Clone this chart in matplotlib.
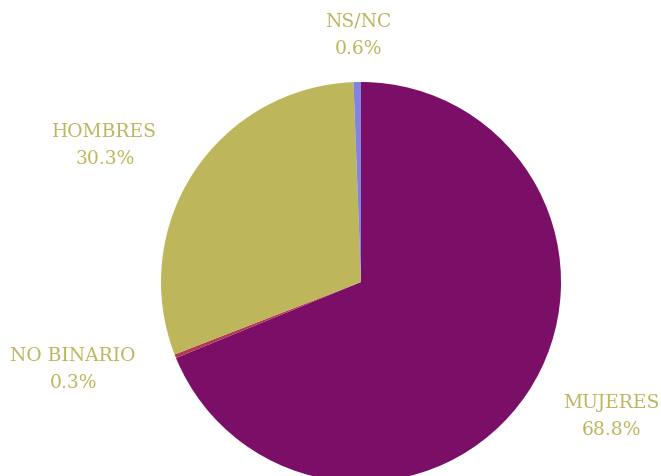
import numpy as np
import matplotlib
matplotlib.use('Agg')
import matplotlib.pyplot as plt

# data
categories = ["MUJERES", "NO BINARIO", "HOMBRES", "NS/NC"]
shares = [68.8, 0.3, 30.3, 0.6]
colors = ['#7b0f68', '#b03a4e', '#bdb65a', '#8383e0']

# label placement relative to each wedge's mid angle
label_dist = [1.42, 1.505, 1.45, 1.235]
label_turn = [5.6, -4.8, 5.3, -0.4]

fig = plt.figure(figsize=(6.61, 4.76), dpi=100)
ax = fig.add_axes([0, 0, 1, 1])

wedges, _ = ax.pie(shares, colors=colors, startangle=90, counterclock=False,
                   radius=1.0, wedgeprops=dict(linewidth=0))

for w, name, val, d, t in zip(wedges, categories, shares, label_dist, label_turn):
    ang = np.deg2rad((w.theta1 + w.theta2) / 2 + t)
    ax.text(d * np.cos(ang), d * np.sin(ang), f"{name}\n{val:.1f}%",
            ha='center', va='center', fontsize=13.5, color='#bdb65e',
            family='DejaVu Serif', linespacing=1.65)

ax.set_xlim(-361 / 200, 300 / 200)
ax.set_ylim(-194 / 200, 282 / 200)
ax.set_aspect('equal')
ax.axis('off')

fig.savefig('out.png', dpi=100)
plt.close(fig)
